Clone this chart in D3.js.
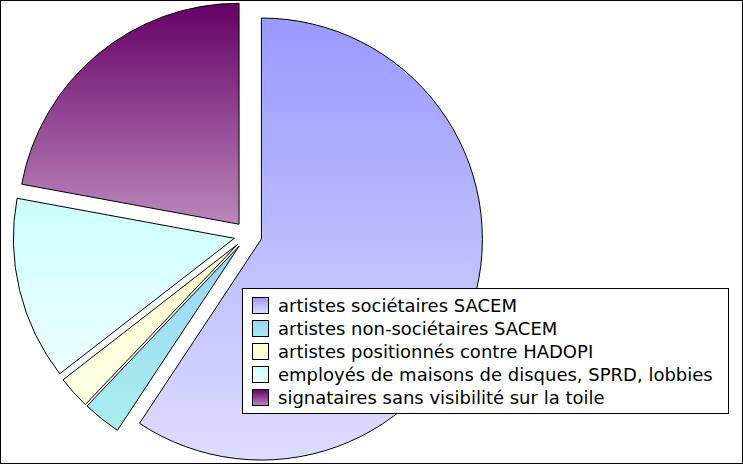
<!DOCTYPE html>
<html><head><meta charset="utf-8">
<script src="https://cdn.jsdelivr.net/npm/d3@7"></script>
<style>body{margin:0;background:#fff}</style></head>
<body><svg id="c" width="743" height="464"></svg>
<script>
const categories = ["artistes sociétaires SACEM","artistes non-sociétaires SACEM","artistes positionnés contre HADOPI","employés de maisons de disques, SPRD, lobbies","signataires sans visibilité sur la toile"];
const values = [59.3, 2.8, 2.4, 13.4, 22.1];
const gradTop = ["#9999ff","#99d4f4","#ffffcc","#ccffff","#660066"];
const gradBot = ["#ddddff","#aaeeee","#ffffe6","#eeffff","#bb88bb"];

const svg = d3.select("#c");
const defs = svg.append("defs");
categories.forEach((c,i)=>{
  const g = defs.append("linearGradient").attr("id","g"+i).attr("x1",0).attr("y1",0).attr("x2",0).attr("y2",1);
  g.append("stop").attr("offset","0%").attr("stop-color",gradTop[i]);
  g.append("stop").attr("offset","100%").attr("stop-color",gradBot[i]);
});
svg.append("rect").attr("x",0.5).attr("y",0.5).attr("width",742).attr("height",463).attr("fill","#fff").attr("stroke","#000");
const cx=248, cy=235, r=221, off=14;
const pie = d3.pie().sort(null).value(d=>d);
const arc = d3.arc().innerRadius(0).outerRadius(r);
pie(values).forEach((a,i)=>{
  const m=(a.startAngle+a.endAngle)/2;
  const ox=cx+off*Math.sin(m), oy=cy-off*Math.cos(m);
  svg.append("path").attr("transform",`translate(${ox},${oy})`).attr("d",arc(a))
    .attr("fill",`url(#g${i})`).attr("stroke","#000").attr("stroke-width",1);
});
const lg = svg.append("g");
lg.append("rect").attr("x",242.5).attr("y",288.5).attr("width",486).attr("height",125).attr("fill","#fff").attr("stroke","#000");
categories.forEach((c,i)=>{
  const y=297+i*23;
  lg.append("rect").attr("x",252.5).attr("y",y+0.5).attr("width",16).attr("height",16).attr("fill",`url(#g${i})`).attr("stroke","#000");
  lg.append("text").attr("x",278).attr("y",y+15).attr("font-family","DejaVu Sans").attr("font-size",18).text(c);
});
</script></body></html>
